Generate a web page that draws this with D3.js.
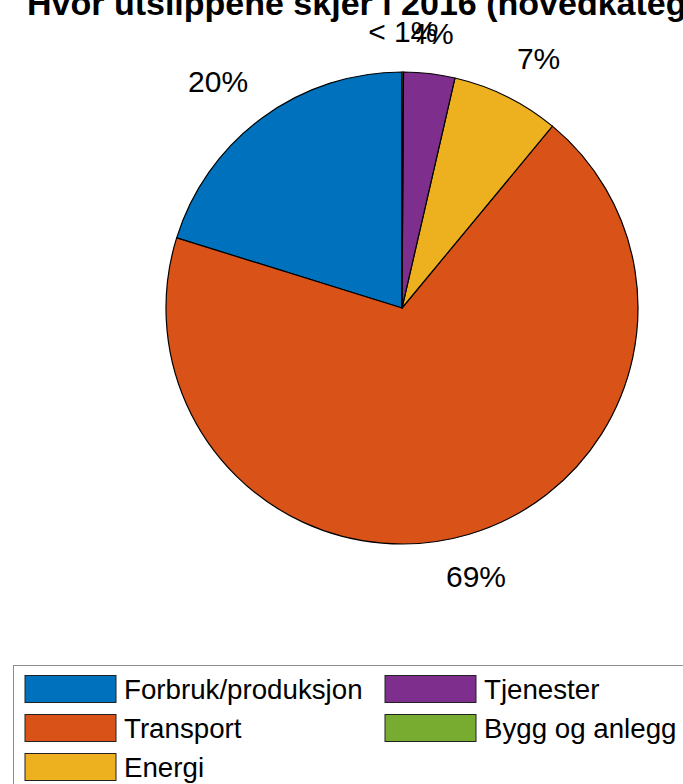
<!DOCTYPE html>
<html>
<head>
<meta charset="utf-8">
<script src="https://cdn.jsdelivr.net/npm/d3@7"></script>
<style>
  body { margin: 0; background: #fff; }
  svg { display: block; font-family: "Liberation Sans", Arial, sans-serif; }
</style>
</head>
<body>
<svg width="683" height="784"></svg>
<script>

// shares of emissions, 2016 (main categories)
var categories = ["Forbruk/produksjon", "Transport", "Energi", "Tjenester", "Bygg og anlegg"];
var values = [20.2, 68.8, 7.4, 3.5, 0.1];
var pctLabels = ["20%", "69%", "7%", "4%", "< 1%"];
var colors = ["#0072BD", "#D95319", "#EDB120", "#7E2F8E", "#77AC30"];
var titleText = "Hvor utslippene skjer i 2016 (hovedkategorier)";

var svg = d3.select('svg'),
    cx = 402,
    cy = 308,
    radius = 236;

var color = d3.scaleOrdinal().domain(categories).range(colors);

// matlab draws counterclockwise from the top
var pie = d3.pie()
    .sort(null)
    .startAngle(0)
    .endAngle(-2 * Math.PI)
    .value(function(d) { return d.value; });

var arc = d3.arc().innerRadius(0).outerRadius(radius);

var data = categories.map(function(c, i) {
  return { name: c, value: values[i], label: pctLabels[i] };
});

var arcs = pie(data);

var g = svg.append("g")
    .attr("transform", "translate(" + cx + "," + cy + ")");

g.selectAll("path")
  .data(arcs)
  .enter().append("path")
    .attr("d", arc)
    .attr("fill", function(d) { return color(d.data.name); })
    .attr("stroke", "#000")
    .attr("stroke-width", 1.2)
    .attr("stroke-linejoin", "round");

var labelR = radius * 1.1;

g.selectAll("text.pct")
  .data(arcs)
  .enter().append("text")
    .attr("class", "pct")
    .attr("font-size", 30)
    .attr("fill", "#000")
    .each(function(d) {
      var a = (d.startAngle + d.endAngle) / 2,
          x = Math.sin(a) * labelR,
          y = -Math.cos(a) * labelR,
          anchor = "middle";
      if (Math.abs(Math.sin(a)) > 0.35) anchor = x > 0 ? "start" : "end";
      d3.select(this)
        .attr("x", x)
        .attr("y", y)
        .attr("dy", y < 0 ? "-0.22em" : "1.0em")
        .attr("text-anchor", anchor)
        .text(d.data.label);
    });

svg.append("text")
    .attr("x", 27)
    .attr("y", 15)
    .attr("font-size", 34)
    .attr("font-weight", "bold")
    .text(titleText);

// legend, 3 rows and filled column by column
var legend = svg.append("g").attr("transform", "translate(13,665)");

legend.append("rect")
    .attr("x", 0.5)
    .attr("y", 0.5)
    .attr("width", 700)
    .attr("height", 140)
    .attr("fill", "#fff")
    .attr("stroke", "#8c8c8c")
    .attr("stroke-width", 1);

var rowY = d3.scalePoint().domain([0, 1, 2]).range([24, 102]);
var colX = d3.scalePoint().domain([0, 1]).range([12, 372]);

var items = legend.selectAll("g.item")
  .data(categories)
  .enter().append("g")
    .attr("class", "item")
    .attr("transform", function(d, i) {
      return "translate(" + colX(Math.floor(i / 3)) + "," + rowY(i % 3) + ")";
    });

items.append("rect")
    .attr("x", 0)
    .attr("y", -13.5)
    .attr("width", 91)
    .attr("height", 27)
    .attr("fill", function(d) { return color(d); })
    .attr("stroke", "#222")
    .attr("stroke-width", 1);

items.append("text")
    .attr("x", 99)
    .attr("y", 0)
    .attr("dy", "0.35em")
    .attr("font-size", 27.7)
    .text(function(d) { return d; });

</script>
</body>
</html>
